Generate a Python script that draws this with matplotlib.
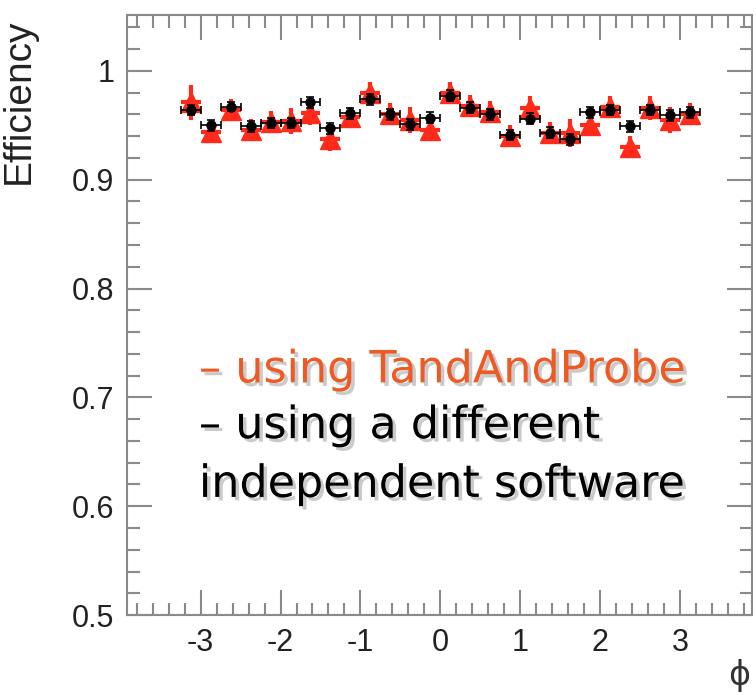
## Efficiency vs phi: TagAndProbe compared with an independent software
import numpy as np
import matplotlib.pyplot as plt
import matplotlib.patheffects as pe
from matplotlib.ticker import MultipleLocator, FuncFormatter

plt.rcParams['axes.unicode_minus'] = False

# bin centres in phi (bins of width 0.25)
phi_bins = [-3.125, -2.875, -2.625, -2.375, -2.125, -1.875, -1.625, -1.375, -1.125,
            -0.875, -0.625, -0.375, -0.125, 0.125, 0.375, 0.625, 0.875, 1.125,
            1.375, 1.625, 1.875, 2.125, 2.375, 2.625, 2.875, 3.125]
half_width = 0.125

# black: different independent software
eff_other = [0.964, 0.950, 0.967, 0.949, 0.952, 0.952, 0.971, 0.947, 0.961,
             0.974, 0.960, 0.951, 0.957, 0.977, 0.966, 0.960, 0.941, 0.956,
             0.943, 0.937, 0.962, 0.964, 0.949, 0.964, 0.959, 0.962]
err_other = [0.005, 0.005, 0.004, 0.005, 0.005, 0.005, 0.005, 0.005, 0.005,
             0.005, 0.005, 0.005, 0.005, 0.005, 0.005, 0.005, 0.005, 0.005,
             0.005, 0.005, 0.005, 0.005, 0.005, 0.005, 0.005, 0.005]

# red: TagAndProbe
eff_tnp = [0.971, 0.944, 0.964, 0.946, 0.953, 0.954, 0.961, 0.937, 0.958,
           0.980, 0.960, 0.955, 0.946, 0.980, 0.968, 0.962, 0.940, 0.966,
           0.943, 0.943, 0.950, 0.967, 0.930, 0.966, 0.955, 0.960]
err_tnp = [0.016, 0.010, 0.010, 0.010, 0.010, 0.012, 0.011, 0.011, 0.009,
           0.010, 0.010, 0.012, 0.010, 0.010, 0.010, 0.010, 0.010, 0.011,
           0.010, 0.013, 0.010, 0.010, 0.010, 0.011, 0.012, 0.010]

fig = plt.figure(figsize=(7.56, 6.95), dpi=100, facecolor='white')
ax = fig.add_axes([0.168, 0.115, 0.827, 0.863])

ax.errorbar(phi_bins, eff_tnp, yerr=err_tnp, xerr=half_width, fmt='^', color='#ff2a1a',
            ms=14, elinewidth=3, capsize=0, zorder=2)
ax.errorbar(phi_bins, eff_other, yerr=err_other, xerr=half_width, fmt='o', color='black',
            ms=6.5, elinewidth=1.2, capsize=3, capthick=1.2, zorder=3)

ax.set_xlim(-3.92, 3.9)
ax.set_ylim(0.5, 1.051)

grey = '#8a8a8a'
for s in ax.spines.values():
    s.set_color(grey)
    s.set_linewidth(1.5)
ax.xaxis.set_major_locator(MultipleLocator(1))
ax.xaxis.set_minor_locator(MultipleLocator(0.2))
ax.yaxis.set_major_locator(MultipleLocator(0.1))
ax.yaxis.set_minor_locator(MultipleLocator(0.02))
ax.yaxis.set_major_formatter(FuncFormatter(lambda v, p: ('%g' % round(v, 2))))
ax.xaxis.set_major_formatter(FuncFormatter(lambda v, p: ('%g' % round(v, 2))))
ax.tick_params(which='both', direction='in', top=True, right=True, color=grey, width=1.5,
               labelsize=22, labelcolor='#222222')
ax.tick_params(which='major', length=18, pad=9)
ax.tick_params(which='minor', length=9)

ax.set_ylabel('Efficiency', fontsize=28, family='Liberation Sans', color='#222222')
ax.yaxis.set_label_coords(-0.145, 0.857)
for lab in ax.get_xticklabels() + ax.get_yticklabels():
    lab.set_family('Liberation Sans')
fig.text(0.978, 0.005, '\u03d5', fontsize=24, color='#333333', ha='center', va='bottom')

# legend text drawn like a slide overlay
shadow = [pe.withSimplePatchShadow(offset=(2.5, -2.5), shadow_rgbFace='#a0a0a0', alpha=0.55)]
ax.text(0.115, 0.388, '\u2013 using TandAndProbe', transform=ax.transAxes, fontsize=32,
        color='#ee5a24', va='baseline', path_effects=shadow)
ax.text(0.115, 0.295, '\u2013 using a different', transform=ax.transAxes, fontsize=32,
        color='black', va='baseline', path_effects=shadow)
ax.text(0.115, 0.197, 'independent software', transform=ax.transAxes, fontsize=32,
        color='black', va='baseline', path_effects=shadow)

plt.savefig('out.png', dpi=100)
